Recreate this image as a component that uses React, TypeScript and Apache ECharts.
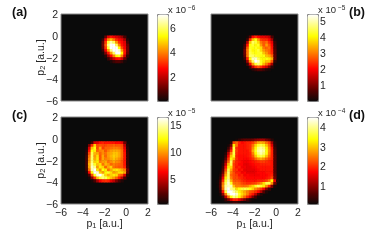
import React, { useEffect, useRef } from "react";
import * as echarts from "echarts";

const BIN_COUNT = 32;
const binLabels = Array.from({ length: BIN_COUNT }, (_, i) => String(i));

// intensity in percent of the colour-bar top, first bin index given per panel
const aFirst = [15, 8];
const aRows = [
  [0, 15, 34, 40, 36, 32, 28, 22, 10, 0],
  [8, 36, 58, 66, 56, 44, 38, 34, 24, 4],
  [14, 45, 80, 92, 84, 60, 44, 38, 32, 8],
  [16, 50, 88, 100, 100, 84, 56, 40, 34, 14],
  [14, 45, 80, 100, 100, 100, 76, 48, 36, 16],
  [8, 36, 60, 88, 100, 100, 94, 60, 40, 16],
  [2, 20, 40, 60, 84, 100, 100, 74, 40, 14],
  [0, 5, 22, 38, 56, 74, 78, 56, 30, 6],
  [0, 0, 8, 20, 30, 38, 40, 30, 14, 0],
  [0, 0, 0, 3, 8, 12, 12, 8, 2, 0],
];
const bFirst = [12, 8];
const bRows = [
  [0, 2, 14, 38, 44, 38, 34, 34, 32, 28, 10, 0],
  [0, 8, 44, 66, 76, 60, 46, 44, 44, 38, 24, 2],
  [2, 26, 66, 84, 80, 70, 55, 50, 54, 44, 34, 6],
  [8, 40, 76, 80, 74, 78, 60, 50, 60, 50, 38, 8],
  [12, 50, 78, 76, 78, 74, 70, 55, 52, 54, 40, 10],
  [16, 55, 80, 74, 76, 80, 70, 60, 55, 52, 42, 12],
  [16, 55, 82, 78, 76, 78, 78, 66, 60, 52, 44, 12],
  [14, 55, 84, 84, 80, 78, 76, 76, 66, 62, 52, 14],
  [8, 42, 76, 92, 94, 84, 76, 74, 76, 72, 62, 14],
  [2, 24, 60, 84, 100, 94, 78, 72, 66, 66, 50, 6],
  [0, 8, 35, 60, 80, 86, 78, 64, 55, 44, 24, 1],
  [0, 0, 10, 30, 44, 50, 44, 36, 30, 18, 5, 0],
  [0, 0, 0, 4, 8, 12, 12, 8, 4, 2, 0, 0],
];
const cFirst = [9, 9];
const cRows = [
  [0, 1, 10, 32, 34, 40, 42, 40, 40, 40, 40, 38, 38, 35, 16, 0],
  [0, 18, 44, 68, 48, 50, 48, 48, 50, 50, 52, 50, 50, 48, 28, 3],
  [2, 32, 66, 76, 48, 62, 46, 52, 52, 54, 56, 56, 54, 50, 34, 5],
  [4, 40, 76, 72, 52, 56, 58, 50, 56, 60, 62, 62, 60, 54, 38, 6],
  [6, 48, 82, 64, 62, 52, 58, 54, 60, 62, 66, 66, 62, 54, 40, 7],
  [8, 54, 84, 60, 70, 50, 62, 52, 60, 64, 68, 66, 62, 54, 40, 7],
  [10, 58, 84, 62, 72, 50, 62, 56, 58, 62, 66, 62, 58, 52, 40, 7],
  [10, 60, 86, 68, 72, 56, 60, 62, 54, 58, 62, 58, 56, 50, 40, 7],
  [10, 64, 90, 78, 66, 70, 54, 64, 60, 52, 56, 54, 52, 50, 40, 7],
  [10, 62, 94, 88, 60, 72, 68, 52, 62, 68, 54, 52, 50, 50, 42, 9],
  [8, 54, 92, 100, 72, 58, 76, 72, 54, 62, 70, 72, 68, 62, 56, 16],
  [4, 38, 76, 100, 96, 68, 60, 74, 78, 70, 60, 64, 70, 70, 62, 14],
  [1, 12, 48, 78, 96, 100, 86, 70, 62, 68, 72, 70, 54, 50, 32, 4],
  [0, 2, 20, 44, 66, 80, 86, 84, 74, 66, 60, 52, 42, 28, 10, 0],
  [0, 0, 2, 10, 24, 36, 42, 44, 42, 34, 28, 18, 10, 4, 0, 0],
];
const dFirst = [2, 8];
const dRows = [
  [0, 0, 0, 0, 0, 0, 0, 2, 6, 12, 14, 14, 14, 16, 20, 22, 24, 24, 18, 14, 5, 0, 0],
  [0, 0, 0, 0, 0, 5, 48, 52, 42, 38, 40, 42, 42, 46, 54, 62, 64, 62, 54, 46, 24, 3, 0],
  [0, 0, 0, 0, 2, 16, 72, 54, 40, 40, 40, 42, 44, 54, 68, 78, 82, 78, 66, 52, 32, 5, 0],
  [0, 0, 0, 0, 8, 30, 82, 44, 40, 40, 40, 42, 44, 58, 74, 86, 90, 86, 74, 56, 40, 8, 0],
  [0, 0, 0, 1, 16, 42, 80, 46, 40, 40, 40, 40, 44, 62, 78, 90, 94, 90, 76, 58, 42, 10, 0],
  [0, 0, 0, 4, 28, 56, 82, 44, 40, 40, 40, 40, 42, 56, 74, 86, 92, 86, 76, 56, 42, 10, 0],
  [0, 0, 0, 8, 36, 66, 78, 42, 39, 39, 39, 40, 42, 50, 66, 78, 82, 78, 66, 52, 42, 12, 0],
  [0, 0, 1, 14, 44, 74, 64, 44, 39, 39, 38, 38, 40, 44, 52, 58, 62, 58, 52, 46, 42, 12, 0],
  [0, 0, 3, 22, 52, 84, 50, 42, 40, 38, 36, 36, 38, 40, 42, 44, 46, 46, 44, 42, 40, 12, 0],
  [0, 0, 5, 30, 64, 82, 46, 42, 38, 38, 34, 34, 36, 38, 40, 40, 42, 42, 42, 42, 40, 12, 0],
  [0, 0, 8, 40, 72, 70, 48, 40, 42, 36, 36, 34, 34, 36, 38, 40, 40, 40, 40, 40, 40, 12, 0],
  [0, 0, 12, 48, 82, 62, 46, 44, 38, 40, 34, 34, 34, 34, 36, 38, 40, 40, 40, 40, 40, 12, 0],
  [0, 1, 16, 56, 86, 56, 48, 42, 42, 36, 38, 34, 34, 34, 36, 38, 38, 38, 40, 40, 40, 12, 0],
  [0, 3, 24, 62, 84, 52, 48, 46, 40, 42, 36, 38, 36, 36, 36, 36, 38, 38, 38, 40, 42, 14, 0],
  [0, 6, 34, 72, 86, 56, 48, 48, 44, 42, 40, 38, 38, 38, 38, 38, 38, 38, 40, 42, 48, 16, 0],
  [1, 10, 44, 80, 92, 64, 50, 50, 48, 44, 42, 40, 40, 40, 40, 42, 42, 44, 48, 56, 74, 34, 3],
  [1, 12, 54, 84, 96, 78, 54, 54, 52, 48, 46, 44, 44, 46, 48, 52, 58, 70, 82, 82, 58, 16, 0],
  [1, 12, 58, 90, 94, 92, 66, 56, 56, 54, 54, 56, 62, 68, 78, 84, 78, 72, 58, 42, 18, 2, 0],
  [0, 10, 54, 92, 100, 88, 84, 70, 76, 80, 82, 80, 76, 68, 58, 52, 46, 36, 20, 8, 0, 0, 0],
  [0, 6, 40, 82, 100, 100, 92, 84, 74, 68, 62, 56, 50, 48, 44, 38, 26, 12, 3, 0, 0, 0, 0],
  [0, 2, 22, 56, 88, 100, 100, 94, 80, 70, 64, 56, 46, 40, 28, 14, 4, 0, 0, 0, 0, 0, 0],
  [0, 0, 6, 28, 54, 76, 88, 84, 74, 62, 52, 42, 32, 18, 8, 1, 0, 0, 0, 0, 0, 0, 0],
  [0, 0, 1, 8, 18, 32, 42, 42, 34, 26, 18, 10, 4, 1, 0, 0, 0, 0, 0, 0, 0, 0, 0],
  [0, 0, 0, 0, 2, 5, 8, 8, 5, 2, 1, 0, 0, 0, 0, 0, 0, 0, 0, 0, 0, 0, 0],
];

const aBarTicks = [2, 4, 6];
const bBarTicks = [1, 2, 3, 4, 5];
const cBarTicks = [5, 10, 15];
const dBarTicks = [1, 2, 3, 4];

const hotColors = ["#0a0a0a", "#550000", "#aa0000", "#ff0000", "#ff5500", "#ffaa00", "#ffff00", "#ffff80", "#ffffff"];
const GRAY = "#8a8a8a";
const TEXT = "#262626";
const FONT = "'Liberation Sans', Arial, sans-serif";
const LABEL_SIZE = 10.5;

const panels = [
  { id: "(a)", rows: aRows, first: aFirst, left: 61, top: 14, barMin: 0, barMax: 7.15, barTicks: aBarTicks, exp: "−6", xLabels: false, yLabels: true, tagX: 12 },
  { id: "(b)", rows: bRows, first: bFirst, left: 211, top: 14, barMin: 0, barMax: 5.44, barTicks: bBarTicks, exp: "−5", xLabels: false, yLabels: false, tagX: 349 },
  { id: "(c)", rows: cRows, first: cFirst, left: 61, top: 117, barMin: 0.4, barMax: 16.5, barTicks: cBarTicks, exp: "−5", xLabels: true, yLabels: true, tagX: 12 },
  { id: "(d)", rows: dRows, first: dFirst, left: 211, top: 117, barMin: 0.09, barMax: 4.5, barTicks: dBarTicks, exp: "−4", xLabels: true, yLabels: false, tagX: 349 },
];

const SIZE = 87;
const minus = (v: number) => String(v).replace("-", "−");
const nameRich = {
  m: { fontSize: LABEL_SIZE, color: TEXT, fontFamily: FONT },
  s: { fontSize: 7.5, color: TEXT, fontFamily: FONT, verticalAlign: "bottom", padding: [5, 0, 0, 0] },
};

function buildHeatOption() {
  const grid: any[] = [];
  const xAxis: any[] = [];
  const yAxis: any[] = [];
  const series: any[] = [];
  const visualMap: any[] = [];
  panels.forEach((p, i) => {
    grid.push({ left: p.left, top: p.top, width: SIZE, height: SIZE, show: false });
    xAxis.push({ type: "category", gridIndex: i, data: binLabels, show: false });
    yAxis.push({ type: "category", gridIndex: i, data: binLabels, show: false, inverse: true });
    const data: number[][] = [];
    p.rows.forEach((row, r) =>
      row.forEach((pct, c) => {
        if (pct > 0) data.push([p.first[0] + c, p.first[1] + r, p.barMin + (pct / 100) * (p.barMax - p.barMin)]);
      })
    );
    series.push({ type: "heatmap", xAxisIndex: i, yAxisIndex: i, data, progressive: 0, silent: true, itemStyle: { borderWidth: 0 } });
    visualMap.push({
      type: "continuous", show: false, seriesIndex: i, min: p.barMin, max: p.barMax,
      inRange: { color: hotColors },
    });
  });
  return { animation: false, backgroundColor: "#0a0a0a", grid, xAxis, yAxis, series, visualMap };
}

function buildFrameOption() {
  const grid: any[] = [];
  const xAxis: any[] = [];
  const yAxis: any[] = [];
  const visualMap: any[] = [];
  const graphic: any[] = [];
  panels.forEach((p) => {
    const g1 = grid.length;
    grid.push({ left: p.left, top: p.top, width: SIZE, height: SIZE, show: true, backgroundColor: "transparent", borderColor: GRAY, borderWidth: 1 });
    xAxis.push({
      type: "value", gridIndex: g1, min: -6, max: 2, interval: 2,
      axisLine: { show: false }, axisTick: { show: false }, splitLine: { show: false },
      axisLabel: { show: p.xLabels, fontSize: LABEL_SIZE, color: TEXT, fontFamily: FONT, margin: 2, formatter: minus, hideOverlap: false },
      name: p.xLabels ? "{m|p}{s|1}{m| [a.u.]}" : "", nameLocation: "middle", nameGap: 12, nameMoveOverlap: false, nameTextStyle: { rich: nameRich },
    });
    yAxis.push({
      type: "value", gridIndex: g1, min: -6, max: 2, interval: 2,
      axisLine: { show: false }, axisTick: { show: false }, splitLine: { show: false },
      axisLabel: { show: p.yLabels, fontSize: LABEL_SIZE, color: TEXT, fontFamily: FONT, margin: 3, formatter: minus },
      name: p.yLabels ? "{m|p}{s|2}{m| [a.u.]}" : "", nameLocation: "middle", nameRotate: 90, nameGap: 15, nameMoveOverlap: false, nameTextStyle: { rich: nameRich },
    });
    const barLeft = p.left + 96;
    visualMap.push({
      type: "continuous", min: p.barMin, max: p.barMax, left: barLeft, top: p.top,
      itemWidth: 11, itemHeight: SIZE, padding: 0, calculable: false, realtime: false, text: null,
      inRange: { color: hotColors }, borderColor: GRAY, borderWidth: 1, hoverLink: false,
    });
    const g2 = grid.length;
    grid.push({ left: barLeft, top: p.top, width: 11, height: SIZE, show: false });
    xAxis.push({ type: "value", gridIndex: g2, min: 0, max: 1, show: false });
    yAxis.push({
      type: "value", gridIndex: g2, position: "right", min: p.barMin, max: p.barMax,
      axisLine: { show: false }, axisTick: { show: false }, splitLine: { show: false },
      axisLabel: { fontSize: LABEL_SIZE, color: TEXT, fontFamily: FONT, margin: 2, customValues: p.barTicks, formatter: (v: number) => String(v) },
    });
    graphic.push({
      type: "text", left: barLeft + 11, top: p.top - 10,
      style: { text: "x 10{e|" + p.exp + "}", fill: TEXT, font: "9.5px " + FONT, rich: { e: { fontSize: 6.5, fill: TEXT, fontFamily: FONT, verticalAlign: "top", padding: [0, 0, 4, 2] } } },
    });
    graphic.push({
      type: "text", left: p.tagX, top: p.top - 9,
      style: { text: p.id, fill: "#111", font: "bold 12.5px " + FONT },
    });
  });
  return { animation: false, grid, xAxis, yAxis, visualMap, graphic };
}

const panelClip = panels.map((p) => `M${p.left} ${p.top}h${SIZE}v${SIZE}h-${SIZE}z`).join(" ");

export default function App() {
  const heatRef = useRef<HTMLDivElement>(null);
  const frameRef = useRef<HTMLDivElement>(null);
  useEffect(() => {
    const heat = echarts.init(heatRef.current!, undefined, { renderer: "svg" });
    heat.setOption(buildHeatOption() as any);
    const frame = echarts.init(frameRef.current!, undefined, { renderer: "svg" });
    frame.setOption(buildFrameOption() as any);
    return () => {
      heat.dispose();
      frame.dispose();
    };
  }, []);
  const layer: React.CSSProperties = { position: "absolute", left: 0, top: 0, width: 374, height: 241 };
  return (
    <>
      <div ref={heatRef} style={{ ...layer, filter: "blur(0.75px)", clipPath: `path("${panelClip}")` }} />
      <div ref={frameRef} style={{ ...layer, filter: "blur(0.35px)" }} />
    </>
  );
}
